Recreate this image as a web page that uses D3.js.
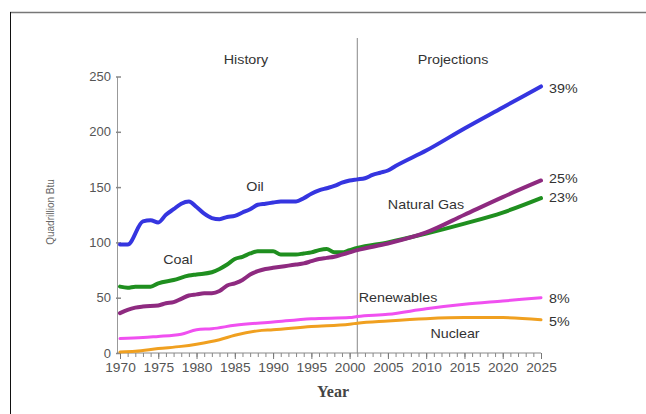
<!DOCTYPE html>
<html><head><meta charset="utf-8">
<script src="https://cdn.jsdelivr.net/npm/d3@7"></script>
<style>body{margin:0;background:#fff}svg{display:block}</style>
</head><body>
<script>
const xTicks = [1970,1975,1980,1985,1990,1995,2000,2005,2010,2015,2020,2025];
const yTicks = [0,50,100,150,200,250];

const oilYears = [1970,1971,1973,1974,1975,1976,1977,1978,1979,1980,1981,1982,1983,1984,1985,1986,1987,1988,1989,1990,1991,1992,1993,1994,1995,1996,1997,1998,1999,2000,2001,2002,2003,2004,2005,2006,2010,2015,2020,2025];
const oilValues = [98,98,119,120,118,125,130,135,137,132,126,122,121,123,124,127,130,134,135,136,137,137,137,140,144,147,149,151,154,156,157,158,161,163,165,169,183,203,222,241];

const coalYears = [1970,1971,1972,1974,1975,1977,1979,1980,1982,1983,1984,1985,1986,1987,1988,1989,1990,1991,1992,1993,1994,1995,1996,1997,1998,1999,2000,2001,2005,2010,2015,2020,2025];
const coalValues = [60,59,60,60,63,66,70,71,73,76,80,85,87,90,92,92,92,89,89,89,90,91,93,94,91,91,93,95,100,108,117,127,140];

const gasYears = [1970,1971,1972,1973,1975,1976,1977,1978,1979,1980,1981,1982,1983,1984,1985,1986,1987,1988,1989,1990,1991,1992,1993,1994,1995,1996,1997,1998,1999,2000,2001,2005,2010,2015,2020,2025];
const gasValues = [36,39,41,42,43,45,46,49,52,53,54,54,56,61,63,66,71,74,76,77,78,79,80,81,83,85,86,87,89,91,93,99,109,125,141,156];

const renYears = [1970,1973,1975,1977,1978,1980,1982,1985,1990,1995,2000,2001,2005,2010,2015,2020,2025];
const renValues = [13,14,15,16,17,21,22,25,28,31,32,33,35,40,44,47,50];

const nucYears = [1970,1972,1975,1978,1980,1983,1985,1988,1990,1995,2000,2001,2005,2010,2015,2020,2025];
const nucValues = [1,1.5,4,6,8,12,16,20,21,24,26,27,29,31,32,32,30];

const seriesNames = ["Oil","Coal","Natural Gas","Renewables","Nuclear"];
const seriesShares = ["39%","23%","25%","8%","5%"];

const W = 646, H = 414;
const svg = d3.select("body").append("svg").attr("width", W).attr("height", H);

// frame
svg.append("line").attr("x1",10).attr("x2",646).attr("y1",12.5).attr("y2",12.5).attr("stroke","#777").attr("stroke-width",1.5);
svg.append("line").attr("x1",10.5).attr("x2",10.5).attr("y1",12).attr("y2",414).attr("stroke","#111").attr("stroke-width",1);

const x = d3.scaleLinear().domain([1970,2025]).range([120,541]);
const y = d3.scaleLinear().domain([0,250]).range([353,76.5]);

const font = "Liberation Sans, Arial, sans-serif";

// y axis
const yAxis = svg.append("g").attr("transform","translate(117,0)")
  .call(d3.axisLeft(y).tickValues(yTicks).tickSize(0).tickPadding(6));
yAxis.select(".domain").attr("stroke","#999");
yAxis.selectAll("text").attr("font-family",font).attr("font-size",13).attr("fill","#555");
yAxis.selectAll(".tick").append("line").attr("x1",-1).attr("x2",4).attr("stroke","#888").attr("stroke-width",1.5);

// x axis minor ticks
const xAxisMinor = svg.append("g").attr("transform","translate(0,353)")
  .call(d3.axisBottom(x).tickValues(d3.range(1970,2026)).tickSize(4).tickFormat(""));
xAxisMinor.select(".domain").remove();
xAxisMinor.selectAll("line").attr("stroke","#888");
const xAxis = svg.append("g").attr("transform","translate(0,353)")
  .call(d3.axisBottom(x).tickValues(xTicks).tickSize(6).tickPadding(4).tickFormat(d3.format("d")));
xAxis.select(".domain").attr("stroke","#888").attr("d","M117,0H541");
xAxis.selectAll("line").attr("stroke","#777");
xAxis.selectAll("text").attr("font-family",font).attr("font-size",12.5).attr("fill","#555")
  .attr("transform","scale(1.1,1)").attr("x",function(){return 0;});

// divider
svg.append("line").attr("x1",x(2001)).attr("x2",x(2001)).attr("y1",38).attr("y2",353).attr("stroke","#888").attr("stroke-width",1);

const line = d3.line().x(d=>x(d[0])).y(d=>y(d[1])).curve(d3.curveMonotoneX);
const zip = (a,b)=>a.map((v,i)=>[v,b[i]]);

const series = [
  {data: zip(nucYears,nucValues), color:"#f0a020", w:3},
  {data: zip(renYears,renValues), color:"#f050f0", w:3},
  {data: zip(coalYears,coalValues), color:"#1f8f1f", w:4},
  {data: zip(gasYears,gasValues), color:"#8e2a80", w:4},
  {data: zip(oilYears,oilValues), color:"#3535e0", w:4},
];
series.forEach(s=>{
  svg.append("path").attr("d",line(s.data)).attr("fill","none")
    .attr("stroke",s.color).attr("stroke-width",s.w).attr("stroke-linejoin","round").attr("stroke-linecap","round");
});

const txt = (t,px,py,opts={})=>svg.append("text")
  .attr("transform",`translate(${px},${py}) scale(${opts.sx||1.1},1)`)
  .attr("font-family",opts.family||font).attr("font-size",opts.size||13)
  .attr("font-weight",opts.weight||"normal").attr("fill",opts.fill||"#333")
  .attr("text-anchor",opts.anchor||"start").text(t);

txt("History",246,64,{anchor:"middle"});
txt("Projections",453,64,{anchor:"middle"});
txt(seriesNames[0],255,191,{anchor:"middle"});
txt(seriesNames[1],178,264,{anchor:"middle"});
txt(seriesNames[2],426,209,{anchor:"middle"});
txt(seriesNames[3],398,302,{anchor:"middle"});
txt(seriesNames[4],455,338,{anchor:"middle"});

txt(seriesShares[0],549,93);
txt(seriesShares[2],549,183);
txt(seriesShares[1],549,202);
txt(seriesShares[3],549,303);
txt(seriesShares[4],549,326);

txt("Year",333,397,{anchor:"middle",family:"Liberation Serif, Times New Roman, serif",size:16,weight:"bold",fill:"#444",sx:1});

svg.append("text").attr("transform","translate(54,212) rotate(-90)")
  .attr("text-anchor","middle").attr("font-family",font).attr("font-size",10).attr("fill","#666")
  .text("Quadrillion Btu");
</script>
</body></html>
